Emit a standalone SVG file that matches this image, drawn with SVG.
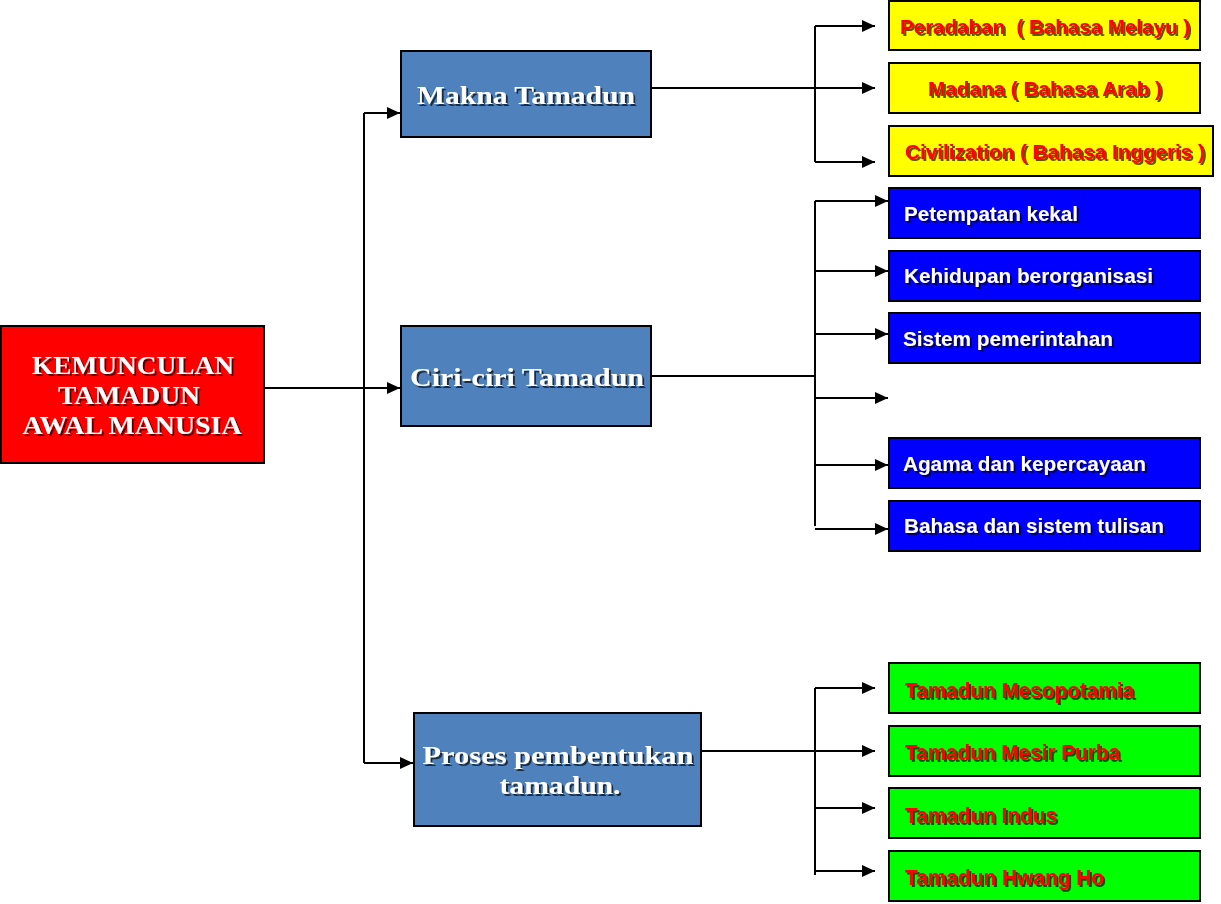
<svg xmlns="http://www.w3.org/2000/svg" width="1221" height="904" viewBox="0 0 1221 904">
<style>
.box{stroke:#000;stroke-width:2}
.serif{font-family:"Liberation Serif","Times New Roman",serif;font-weight:bold;font-size:26px;fill:#fff;text-anchor:middle}
.sans{font-family:"Liberation Sans",Arial,sans-serif;font-weight:bold;font-size:20px}
.narrow{font-size:22px}
.red{fill:#ff0000}
.white{fill:#fff}
.ln{stroke:#000;stroke-width:2;fill:none}
</style>
<defs>
<marker id="ah" markerUnits="userSpaceOnUse" markerWidth="14" markerHeight="12" refX="13" refY="6" orient="auto">
<path d="M0,0 L13,6 L0,12 Z" fill="#000"/>
</marker>
<filter id="sh" x="-10%" y="-30%" width="120%" height="160%">
<feDropShadow dx="2" dy="2" stdDeviation="0.7" flood-color="#000" flood-opacity="0.65"/>
</filter>
</defs>
<g id="connectors">
<path class="ln" d="M264,388 H364"/>
<path class="ln" d="M364,113 V763"/>
<path class="ln" d="M364,113 H400" marker-end="url(#ah)"/>
<path class="ln" d="M364,388 H400" marker-end="url(#ah)"/>
<path class="ln" d="M364,763 H413" marker-end="url(#ah)"/>
<path class="ln" d="M651,88 H875" marker-end="url(#ah)"/>
<path class="ln" d="M815,26 V162"/>
<path class="ln" d="M815,26 H875" marker-end="url(#ah)"/>
<path class="ln" d="M815,162 H875" marker-end="url(#ah)"/>
<path class="ln" d="M651,376 H815"/>
<path class="ln" d="M815,201 V526"/>
<path class="ln" d="M815,201 H888" marker-end="url(#ah)"/>
<path class="ln" d="M815,271 H888" marker-end="url(#ah)"/>
<path class="ln" d="M815,334 H888" marker-end="url(#ah)"/>
<path class="ln" d="M815,398 H888" marker-end="url(#ah)"/>
<path class="ln" d="M815,465 H888" marker-end="url(#ah)"/>
<path class="ln" d="M815,529 H888" marker-end="url(#ah)"/>
<path class="ln" d="M701,751 H875" marker-end="url(#ah)"/>
<path class="ln" d="M815,688 V875"/>
<path class="ln" d="M815,688 H875" marker-end="url(#ah)"/>
<path class="ln" d="M815,808 H875" marker-end="url(#ah)"/>
<path class="ln" d="M815,871 H875" marker-end="url(#ah)"/>
</g>
<g id="root">
<rect class="box" x="1" y="326" width="263" height="137" fill="#ff0000"/>
<text class="serif" filter="url(#sh)"><tspan x="133" y="374" textLength="202" lengthAdjust="spacingAndGlyphs">KEMUNCULAN</tspan><tspan x="129" y="404" textLength="142" lengthAdjust="spacingAndGlyphs">TAMADUN</tspan><tspan x="132" y="434" textLength="219" lengthAdjust="spacingAndGlyphs">AWAL MANUSIA</tspan></text>
</g>
<g id="makna">
<rect class="box" x="401" y="51" width="250" height="86" fill="#4f81bd"/>
<text class="serif" x="526" y="104" filter="url(#sh)" textLength="218" lengthAdjust="spacingAndGlyphs">Makna Tamadun</text>
</g>
<g id="ciri">
<rect class="box" x="401" y="326" width="250" height="100" fill="#4f81bd"/>
<text class="serif" x="527" y="386" filter="url(#sh)" textLength="234" lengthAdjust="spacingAndGlyphs">Ciri-ciri Tamadun</text>
</g>
<g id="proses">
<rect class="box" x="414" y="713" width="287" height="113" fill="#4f81bd"/>
<text class="serif" filter="url(#sh)"><tspan x="558" y="764" textLength="271" lengthAdjust="spacingAndGlyphs">Proses pembentukan</tspan><tspan x="560" y="794" textLength="121" lengthAdjust="spacingAndGlyphs">tamadun.</tspan></text>
</g>
<g id="y1">
<rect class="box" x="889" y="1" width="311" height="49" fill="#ffff00"/>
<text class="sans red" x="900" y="34" filter="url(#sh)" textLength="290" lengthAdjust="spacingAndGlyphs" xml:space="preserve">Peradaban  ( Bahasa Melayu )</text>
</g>
<g id="y2">
<rect class="box" x="889" y="63" width="311" height="50" fill="#ffff00"/>
<text class="sans red" x="928" y="96" filter="url(#sh)" textLength="234" lengthAdjust="spacingAndGlyphs">Madana ( Bahasa Arab )</text>
</g>
<g id="y3">
<rect class="box" x="889" y="126" width="324" height="50" fill="#ffff00"/>
<text class="sans red" x="905" y="159" filter="url(#sh)" textLength="300" lengthAdjust="spacingAndGlyphs">Civilization ( Bahasa Inggeris )</text>
</g>
<g id="b1">
<rect class="box" x="889" y="188" width="311" height="50" fill="#0000ff"/>
<text class="sans white" x="904" y="221" filter="url(#sh)" textLength="174" lengthAdjust="spacingAndGlyphs">Petempatan kekal</text>
</g>
<g id="b2">
<rect class="box" x="889" y="251" width="311" height="50" fill="#0000ff"/>
<text class="sans white" x="904" y="283" filter="url(#sh)" textLength="249" lengthAdjust="spacingAndGlyphs">Kehidupan berorganisasi</text>
</g>
<g id="b3">
<rect class="box" x="889" y="313" width="311" height="50" fill="#0000ff"/>
<text class="sans white" x="903" y="346" filter="url(#sh)" textLength="210" lengthAdjust="spacingAndGlyphs">Sistem pemerintahan</text>
</g>
<g id="b4">
<rect class="box" x="889" y="438" width="311" height="50" fill="#0000ff"/>
<text class="sans white" x="903" y="471" filter="url(#sh)" textLength="243" lengthAdjust="spacingAndGlyphs">Agama dan kepercayaan</text>
</g>
<g id="b5">
<rect class="box" x="889" y="501" width="311" height="50" fill="#0000ff"/>
<text class="sans white" x="904" y="533" filter="url(#sh)" textLength="260" lengthAdjust="spacingAndGlyphs">Bahasa dan sistem tulisan</text>
</g>
<g id="g1">
<rect class="box" x="889" y="663" width="311" height="50" fill="#00ff00"/>
<text class="sans narrow red" x="905" y="698" filter="url(#sh)" textLength="229" lengthAdjust="spacingAndGlyphs">Tamadun Mesopotamia</text>
</g>
<g id="g2">
<rect class="box" x="889" y="726" width="311" height="50" fill="#00ff00"/>
<text class="sans narrow red" x="905" y="760" filter="url(#sh)" textLength="215" lengthAdjust="spacingAndGlyphs">Tamadun Mesir Purba</text>
</g>
<g id="g3">
<rect class="box" x="889" y="788" width="311" height="50" fill="#00ff00"/>
<text class="sans narrow red" x="905" y="823" filter="url(#sh)" textLength="152" lengthAdjust="spacingAndGlyphs">Tamadun Indus</text>
</g>
<g id="g4">
<rect class="box" x="889" y="851" width="311" height="50" fill="#00ff00"/>
<text class="sans narrow red" x="905" y="885" filter="url(#sh)" textLength="199" lengthAdjust="spacingAndGlyphs">Tamadun Hwang Ho</text>
</g>
</svg>
